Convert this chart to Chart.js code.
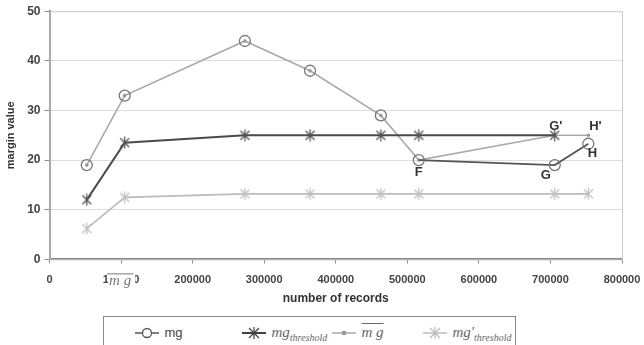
<!DOCTYPE html>
<html>
<head>
<meta charset="utf-8">
<script src="https://cdn.jsdelivr.net/npm/chart.js@4/dist/chart.umd.min.js"></script>
<style>
  html, body { margin: 0; padding: 0; background: #fff; }
  #wrap { position: relative; width: 644px; height: 345px; overflow: hidden; }
  #legend {
    position: absolute; left: 103px; top: 316px; width: 413px; height: 40px;
    border: 1px solid #888; box-sizing: border-box; background: #fff;
    font-family: 'Liberation Sans', Arial, sans-serif; color: #444;
  }
  .item { position: absolute; top: 6px; height: 20px; white-space: nowrap; }
  .item svg { vertical-align: middle; }
  .math { font-family: 'Liberation Serif', 'Times New Roman', serif; font-style: italic; font-size: 15px; color: #666; }
  .math sub { font-size: 10px; vertical-align: -4px; }
  .over { text-decoration: overline; }
</style>
</head>
<body>
<div id="wrap">
  <canvas id="myChart" width="644" height="345"></canvas>
  <div id="legend">
    <div class="item" style="left:30px">
      <svg width="26" height="14"><line x1="1" y1="7" x2="25" y2="7" stroke="#555" stroke-width="1.5"/><circle cx="13" cy="7" r="4.5" fill="#fff" stroke="#555" stroke-width="1.3"/></svg>
      <span style="font-size:13px;">mg</span>
    </div>
    <div class="item" style="left:137px">
      <svg width="26" height="14"><line x1="1" y1="7" x2="25" y2="7" stroke="#444" stroke-width="2"/><path d="M8 2 L18 12 M18 2 L8 12 M13 1 L13 13" stroke="#444" stroke-width="1.2"/></svg>
      <span class="math">mg<sub>threshold</sub></span>
    </div>
    <div class="item" style="left:227px">
      <svg width="26" height="14"><line x1="1" y1="7" x2="25" y2="7" stroke="#aaa" stroke-width="1.5"/><rect x="11" y="5" width="4" height="4" fill="#999"/></svg>
      <span class="math over">m g</span>
    </div>
    <div class="item" style="left:318px">
      <svg width="26" height="14"><line x1="1" y1="7" x2="25" y2="7" stroke="#bbb" stroke-width="1.5"/><path d="M8 2 L18 12 M18 2 L8 12 M13 1 L13 13" stroke="#bbb" stroke-width="1.2"/></svg>
      <span class="math">mg'<sub>threshold</sub></span>
    </div>
  </div>
</div>
<script>
// values
const records = [52000, 105000, 273000, 364000, 463000, 516000, 706000, 753000];
const mg = [19, 33, 44, 38, 29, 20, 19, 23.3];
const mgThreshold = [12, 23.5, 25, 25, 25, 25, 25, null];
const mgBar = [19, 33, 44, 38, 29, 20, 25, 25];
const mgPrimeThreshold = [6.2, 12.5, 13.2, 13.2, 13.2, 13.2, 13.2, 13.2];
const yTicks = [0, 10, 20, 30, 40, 50];
const xTicks = [0, 100000, 200000, 300000, 400000, 500000, 600000, 700000, 800000];

// point names: [series, index, label]
const pointNames = [
  ['mg', 5, 'F'],
  ['mg', 6, 'G'],
  ['mg', 7, 'H'],
  ['mgBar', 6, "G'"],
  ['mgBar', 7, "H'"]
];

const FONT = "'Liberation Sans', Arial, sans-serif";

const toPoints = (vals) => records.map((x, i) => ({ x: x, y: vals[i] }));

// excel style asterisk marker: x plus a vertical stroke
function asterisk(color) {
  const c = document.createElement('canvas');
  c.width = 13; c.height = 13;
  const g = c.getContext('2d');
  g.strokeStyle = color;
  g.lineWidth = 1.3;
  g.beginPath();
  g.moveTo(2, 2); g.lineTo(11, 11);
  g.moveTo(11, 2); g.lineTo(2, 11);
  g.moveTo(6.5, 0.5); g.lineTo(6.5, 12.5);
  g.stroke();
  return c;
}

// frame around plot area (top + right light border)
const framePlugin = {
  id: 'frame',
  beforeDatasetsDraw(chart) {
    const a = chart.chartArea;
    const ctx = chart.ctx;
    ctx.save();
    ctx.strokeStyle = '#ccc';
    ctx.lineWidth = 1;
    ctx.strokeRect(a.left + 0.5, a.top + 0.5, a.right - a.left, a.bottom - a.top);
    ctx.restore();
  }
};

const labelPlugin = {
  id: 'pointNames',
  afterDatasetsDraw(chart) {
    const ctx = chart.ctx;
    const xs = chart.scales.x, ys = chart.scales.y;
    const src = { mg: mg, mgBar: mgBar };
    const offs = { F: [0, 12], G: [-9, 10], H: [4, 10], "G'": [1, -9], "H'": [7, -9] };
    ctx.save();
    ctx.font = 'bold 13px ' + FONT;
    ctx.fillStyle = '#333';
    ctx.textAlign = 'center';
    ctx.textBaseline = 'middle';
    pointNames.forEach(([s, i, name]) => {
      const px = xs.getPixelForValue(records[i]);
      const py = ys.getPixelForValue(src[s][i]);
      ctx.fillText(name, px + offs[name][0], py + offs[name][1]);
    });

    // the pasted "m g" symbol sitting on top of the 100000 tick label
    const cx = xs.getPixelForValue(100000);
    const ty = ys.bottom + 20;
    ctx.fillStyle = '#fff';
    ctx.fillRect(cx - 13, ty - 8, 27, 18);
    ctx.strokeStyle = '#777';
    ctx.lineWidth = 1;
    ctx.beginPath();
    ctx.moveTo(cx - 14, ty - 5.5);
    ctx.lineTo(cx + 12, ty - 5.5);
    ctx.stroke();
    ctx.font = 'italic 15px "Liberation Serif", serif';
    ctx.fillStyle = '#777';
    ctx.fillText('m g', cx - 1, ty + 2);
    ctx.restore();
  }
};

new Chart(document.getElementById('myChart'), {
  type: 'line',
  data: {
    datasets: [
      {
        label: 'mg',
        data: toPoints(mg),
        order: 0,
        borderColor: '#555',
        borderWidth: 1.8,
        segment: { borderColor: c => c.p0DataIndex < 5 ? 'rgba(0,0,0,0)' : '#555' },
        pointStyle: 'circle',
        pointRadius: 5.5,
        pointBorderWidth: 1.3,
        pointBorderColor: '#777',
        pointBackgroundColor: 'rgba(255,255,255,0)',
        tension: 0
      },
      {
        label: 'mg threshold',
        data: toPoints(mgThreshold),
        order: 1,
        borderColor: '#4a4a4a',
        borderWidth: 2,
        pointStyle: asterisk('#555'),
        spanGaps: false,
        tension: 0
      },
      {
        label: 'mg bar',
        data: toPoints(mgBar),
        order: 2,
        borderColor: '#aaa',
        borderWidth: 1.6,
        pointStyle: 'circle',
        pointRadius: 1.8,
        pointBorderWidth: 0,
        pointBackgroundColor: '#999',
        tension: 0
      },
      {
        label: "mg' threshold",
        data: toPoints(mgPrimeThreshold),
        order: 3,
        borderColor: '#bbb',
        borderWidth: 1.6,
        pointStyle: asterisk('#c0c0c0'),
        tension: 0
      }
    ]
  },
  options: {
    responsive: false,
    animation: false,
    layout: { padding: { top: 6, right: 0, bottom: 35, left: 0 } },
    plugins: { legend: { display: false }, tooltip: { enabled: false } },
    scales: {
      x: {
        type: 'linear',
        min: 0, max: 800000,
        afterBuildTicks: s => { s.ticks = xTicks.map(v => ({ value: v })); },
        afterFit: s => { s.paddingRight = 22; },
        ticks: { color: '#444', font: { family: FONT, size: 11, weight: 'bold' }, padding: 10, maxRotation: 0, callback: v => String(v) },
        grid: { drawOnChartArea: false, color: '#888', tickLength: 4 },
        border: { color: '#888', width: 2 },
        title: { display: true, text: 'number of records', color: '#333', font: { family: FONT, size: 12, weight: 'bold' }, padding: { top: -5 } }
      },
      y: {
        min: 0, max: 50,
        afterBuildTicks: s => { s.ticks = yTicks.map(v => ({ value: v })); },
        ticks: { color: '#444', font: { family: FONT, size: 12, weight: 'bold' }, padding: 4 },
        grid: { color: '#ddd', tickLength: 5, tickColor: '#888' },
        border: { color: '#888', width: 2 },
        title: { display: true, text: 'margin value', color: '#333', font: { family: FONT, size: 11, weight: 'bold' }, padding: { bottom: 6 } }
      }
    }
  },
  plugins: [framePlugin, labelPlugin]
});
</script>
</body>
</html>
